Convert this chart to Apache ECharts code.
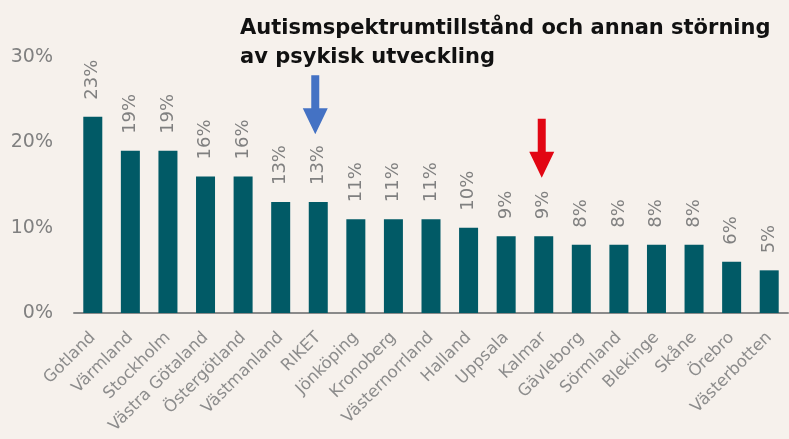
<!DOCTYPE html>
<html>
<head>
<meta charset="utf-8">
<script src="https://cdn.jsdelivr.net/npm/echarts@6/dist/echarts.min.js"></script>
<style>
  html, body { margin: 0; padding: 0; background: #f6f1ec; }
  #chart { width: 789px; height: 439px; }
</style>
</head>
<body>
<div id="chart"></div>
<script>
// data
var regions = ['Gotland', 'Värmland', 'Stockholm', 'Västra Götaland', 'Östergötland', 'Västmanland', 'RIKET',
  'Jönköping', 'Kronoberg', 'Västernorrland', 'Halland', 'Uppsala', 'Kalmar', 'Gävleborg', 'Sörmland',
  'Blekinge', 'Skåne', 'Örebro', 'Västerbotten'];
var shares = [23, 19, 19, 16, 16, 13, 13, 11, 11, 11, 10, 9, 9, 8, 8, 8, 8, 6, 5];
var yTicks = [0, 10, 20, 30];
var titleLines = ['Autismspektrumtillstånd och annan störning', 'av psykisk utveckling'];

var arrowPath = 'path://M8.5,0 L16.5,0 L16.5,33 L25,33 L12.5,59 L0,33 L8.5,33 Z';

var chart = echarts.init(document.getElementById('chart'));
var option = {
  backgroundColor: '#f6f1ec',
  title: {
    text: titleLines.join('\n'),
    left: 235,
    top: 9,
    textStyle: {
      fontFamily: 'DejaVu Sans',
      fontWeight: 'bold',
      fontSize: 21,
      lineHeight: 29,
      color: '#111'
    }
  },
  grid: { left: 74, right: 1, top: 57, bottom: 126 },
  xAxis: {
    type: 'category',
    data: regions,
    axisLine: { lineStyle: { color: '#8a8a8a', width: 2 } },
    axisTick: { show: false },
    axisLabel: {
      interval: 0,
      rotate: 45,
      margin: 22,
      fontFamily: 'DejaVu Sans',
      fontSize: 16.5,
      color: '#8c8c8c'
    }
  },
  yAxis: {
    type: 'value',
    min: yTicks[0],
    max: yTicks[yTicks.length - 1],
    interval: 10,
    splitLine: { show: false },
    axisLine: { show: false },
    axisTick: { show: false },
    axisLabel: {
      margin: 21,
      fontFamily: 'DejaVu Sans',
      fontSize: 19,
      color: '#808080',
      formatter: '{value}%'
    }
  },
  series: [{
    type: 'bar',
    data: shares,
    barWidth: 19,
    itemStyle: { color: '#015a66' },
    label: {
      show: true,
      position: 'top',
      rotate: 90,
      align: 'left',
      verticalAlign: 'middle',
      distance: 17,
      fontFamily: 'DejaVu Sans',
      fontSize: 18,
      color: '#808080',
      formatter: '{c}%'
    },
    markPoint: {
      silent: true,
      symbol: arrowPath,
      symbolSize: [25, 59],
      label: { show: false },
      data: [
        { coord: ['RIKET', 24.4], symbolOffset: [-3, 0], itemStyle: { color: '#4472c4' } },
        { coord: ['Kalmar', 19.3], symbolOffset: [-2, 0], itemStyle: { color: '#e20613' } }
      ]
    }
  }]
};
chart.setOption(option);
</script>
</body>
</html>
